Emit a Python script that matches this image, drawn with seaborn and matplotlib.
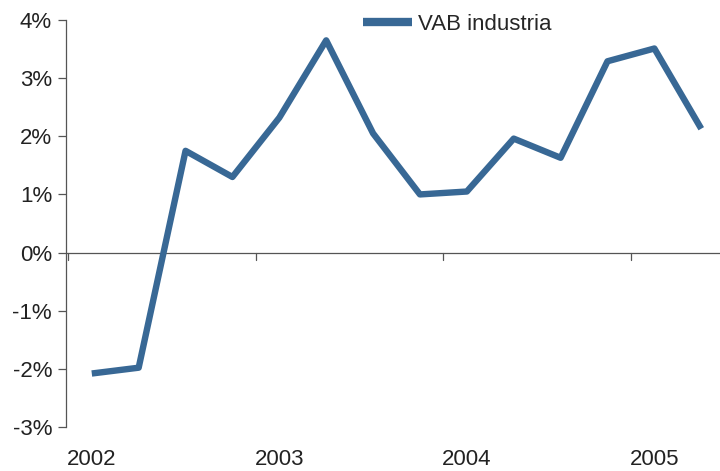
import pandas as pd
import seaborn as sns
import matplotlib.pyplot as plt

# quarterly data 2002Q1 - 2005Q2
quarters = ["2002T1", "2002T2", "2002T3", "2002T4",
            "2003T1", "2003T2", "2003T3", "2003T4",
            "2004T1", "2004T2", "2004T3", "2004T4",
            "2005T1", "2005T2"]
vab_industria = [-2.08, -1.98, 1.75, 1.30,
                 2.32, 3.65, 2.05, 1.00,
                 1.05, 1.96, 1.63, 3.29,
                 3.51, 2.13]
year_labels = ["2002", "2003", "2004", "2005"]
y_ticks = [-3, -2, -1, 0, 1, 2, 3, 4]

df = pd.DataFrame({"pos": range(len(quarters)), "valor": vab_industria})

sns.set_style("white")
plt.rcParams['font.family'] = ['Liberation Sans', 'DejaVu Sans']

fig = plt.figure(figsize=(7.2, 4.71), dpi=100)
ax = fig.add_axes([66 / 720, 1 - 427 / 471, 1 - 66 / 720, 407 / 471])

sns.lineplot(data=df, x="pos", y="valor", ax=ax, color="#386895",
             linewidth=4.6, label="VAB industria")
ax.lines[0].set_solid_capstyle("butt")

ax.set_ylim(-3, 4)
ax.set_xlim(-0.55, 13.4)
ax.set_yticks(y_ticks)
ax.set_yticklabels([f"{t}%" for t in y_ticks], fontsize=16, color="#222222")

# x axis drawn at zero, year boundaries as ticks
for s in ["top", "right", "bottom"]:
    ax.spines[s].set_visible(False)
ax.spines["left"].set_color("#555555")
ax.spines["left"].set_linewidth(0.9)
ax.axhline(0, color="#555555", linewidth=0.9, zorder=1)
ax.set_xticks([])
for b in [-0.5, 3.5, 7.5, 11.5]:
    ax.plot([b, b], [0, -0.13], color="#555555", linewidth=0.9, zorder=1)
for i, lab in enumerate(year_labels):
    ax.text(i * 4, -3.56, lab, ha="center", va="center", fontsize=16,
            color="#222222")

ax.tick_params(axis="y", left=True, length=6, width=0.9, color="#555555", pad=4)
ax.set_xlabel("")
ax.set_ylabel("")

leg = ax.legend(loc="center left", bbox_to_anchor=(0.44, 0.99), frameon=False,
                fontsize=16, handlelength=2.2, handletextpad=0.3, borderaxespad=0)
for h in leg.get_lines():
    h.set_linewidth(6)
    h.set_solid_capstyle("butt")

plt.savefig("out.png", dpi=100)
plt.close()
